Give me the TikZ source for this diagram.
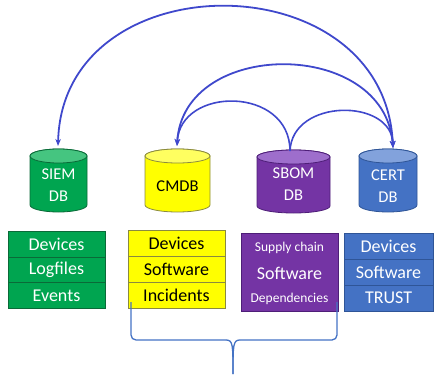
\documentclass[tikz,border=0pt]{standalone}
\usepackage{fontspec}
\setmainfont{Carlito}
\usetikzlibrary{arrows.meta}
\definecolor{gbody}{HTML}{00A550}
\definecolor{gtop}{HTML}{45C580}
\definecolor{gline}{HTML}{0A6A38}
\definecolor{ybody}{HTML}{FFFF00}
\definecolor{ytop}{HTML}{FFFF60}
\definecolor{yline}{HTML}{8A8A40}
\definecolor{pbody}{HTML}{7434A4}
\definecolor{ptop}{HTML}{9E6ECC}
\definecolor{pline}{HTML}{4E1E78}
\definecolor{bbody}{HTML}{4472C4}
\definecolor{btop}{HTML}{82A2DC}
\definecolor{bline}{HTML}{2F5597}
\definecolor{arcblue}{HTML}{3F48CC}
\definecolor{bracecol}{HTML}{4472C4}
\newcommand\dbcyl[7]{%
  \pgfmathsetmacro\cxc{(#1+#2)/2}%
  \pgfmathsetmacro\crx{(#2-#1)/2}%
  \pgfmathsetmacro\cyt{#3+7}%
  \pgfmathsetmacro\cyb{#4-7}%
  \filldraw[fill=#5,draw=#7,line width=0.8pt] (#1,\cyt) -- (#1,\cyb)
    arc[start angle=180,end angle=360,x radius=\crx pt,y radius=7pt]
    -- (#2,\cyt)
    arc[start angle=0,end angle=180,x radius=\crx pt,y radius=7pt] -- cycle;
  \filldraw[fill=#6,draw=#7,line width=0.8pt] (\cxc,\cyt) ellipse[x radius=\crx pt,y radius=7pt];
}
\tikzset{
  cyltext/.style={align=center,inner sep=0pt,font=\fontsize{16.5}{22}\selectfont},
  row/.style={minimum height=26pt,inner sep=0pt,line width=0.8pt,font=\fontsize{18}{20}\selectfont},
  smalltext/.style={inner sep=0pt,font=\fontsize{13.5}{15}\selectfont,text=white},
  arcline/.style={draw=arcblue,line width=1.6pt,-{Stealth[length=7pt,width=5.5pt]}},
  arcboth/.style={draw=arcblue,line width=1.8pt,{Stealth[length=7pt,width=5.5pt]}-{Stealth[length=7pt,width=5.5pt]}},
  brace/.style={draw=bracecol,line width=1.3pt}
}
\begin{document}
\begin{tikzpicture}[x=1pt,y=-1pt]
\useasboundingbox (0,0) rectangle (438,374);
% cylinders
\dbcyl{30}{87}{149}{212}{gbody}{gtop}{gline}
\dbcyl{145}{210}{149}{212}{ybody}{ytop}{yline}
\dbcyl{257}{330}{150}{213}{pbody}{ptop}{pline}
\dbcyl{359}{417}{149}{212}{bbody}{btop}{bline}
\node[cyltext,text=white] (siem) at (58.5,185) {SIEM\\DB};
\node[cyltext,text=black] (cmdb) at (177.5,186) {CMDB};
\node[cyltext,text=white] (sbom) at (293.5,184) {SBOM\\DB};
\node[cyltext,text=white] (cert) at (388,186) {CERT\\DB};
\coordinate (siemtop) at (58,146);
\coordinate (cmdbtop) at (177,146);
\coordinate (sbomtop) at (290,151);
\coordinate (certtop) at (393,148);
% arcs
\draw[arcboth] (certtop) .. controls (385,-40) and (62,-40) .. (siemtop);
\draw[arcboth] (certtop) .. controls (385,38) and (183,38) .. (cmdbtop);
\draw[arcline] (sbomtop) .. controls (290,86) and (180,86) .. (cmdbtop);
\draw[arcline] (sbomtop) .. controls (292,98) and (392,98) .. (certtop);
% SIEM box
\node[row,minimum width=97pt,fill=gbody,draw=gline,text=white] (s1) at (56.5,244) {Devices};
\node[row,minimum width=97pt,fill=gbody,draw=gline,text=white] (s2) at (56.5,270) {Logfiles};
\node[row,minimum width=97pt,fill=gbody,draw=gline,text=white] (s3) at (56.5,295.5) {Events};
% CMDB box
\node[row,minimum width=97pt,fill=ybody,draw=yline,text=black] (c1) at (176.5,243) {Devices};
\node[row,minimum width=97pt,fill=ybody,draw=yline,text=black] (c2) at (176.5,269) {Software};
\node[row,minimum width=97pt,fill=ybody,draw=yline,text=black] (c3) at (176.5,295) {Incidents};
% SBOM box
\node[minimum width=97pt,minimum height=78pt,inner sep=0pt,fill=pbody,draw=pline,line width=0.8pt] (sbombox) at (289.5,272) {};
\node[smalltext] (b1) at (289.5,248) {Supply chain};
\node[inner sep=0pt,font=\fontsize{18}{20}\selectfont,text=white] (b2) at (289.5,273) {Software};
\node[smalltext] (b3) at (289.5,299) {Dependencies};
% CERT box
\node[row,minimum width=89pt,fill=bbody,draw=bline,text=white] (e1) at (388.5,246) {Devices};
\node[row,minimum width=89pt,fill=bbody,draw=bline,text=white] (e2) at (388.5,272) {Software};
\node[row,minimum width=89pt,fill=bbody,draw=bline,text=white] (e3) at (388.5,298) {TRUST};
% brace
\coordinate (brl) at (131,302);
\coordinate (brtip) at (233,374);
\coordinate (brr) at (337,302);
\draw[brace,rounded corners=5pt] (brl) -- (131,340) -- (226,340);
\draw[brace] (226,340) .. controls (233,340) and (233,345) .. (brtip);
\draw[brace] (brtip) .. controls (233,345) and (233,340) .. (240,340);
\draw[brace,rounded corners=5pt] (240,340) -- (337,340) -- (brr);
\end{tikzpicture}
\end{document}
